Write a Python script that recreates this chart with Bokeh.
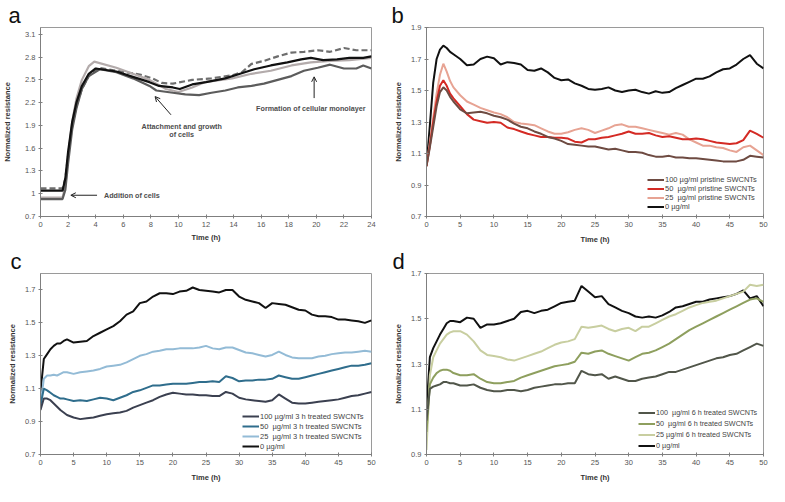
from bokeh.plotting import figure
from bokeh.layouts import gridplot
from bokeh.models import (Range1d, FixedTicker, CustomJSTickFormatter, Legend, LegendItem,
                          Label, Arrow, OpenHead, Title)
from bokeh.embed import file_html
from bokeh.resources import INLINE

FONT = "Liberation Sans"

# ---------------- Panel a data ----------------
A_LABEL_X = [0, 2, 4, 6, 8, 10, 12, 14, 16, 18, 20, 22, 24]
A_TICKS_Y = [0.7, 1, 1.3, 1.6, 1.9, 2.2, 2.5, 2.8, 3.1]

a_black_x = [0, 1.6, 1.8, 2.0, 2.3, 2.6, 3.0, 3.5, 4.0, 5.5, 6.7, 7.9, 8.6, 9.6, 10.1, 11, 12, 13.4, 14.3,
             15.5, 16.7, 17.9, 18.9, 19.6, 20.5, 21.5, 22.4, 23.4, 24]
a_black_y = [1.04, 1.04, 1.2, 1.55, 1.95, 2.2, 2.42, 2.58, 2.65, 2.61, 2.54, 2.47, 2.42, 2.40, 2.38, 2.44,
             2.47, 2.52, 2.57, 2.64, 2.69, 2.73, 2.77, 2.79, 2.76, 2.77, 2.79, 2.79, 2.81]
a_dash_x = [0, 1.6, 1.8, 2.0, 2.3, 2.6, 3.0, 3.5, 4.2, 5.5, 7.2, 8.1, 8.8, 9.6, 11, 12.4, 13.9, 14.6, 15.3,
            16.2, 17.2, 18.2, 19.1, 20.1, 21, 22, 22.9, 24]
a_dash_y = [1.07, 1.07, 1.2, 1.5, 1.9, 2.15, 2.38, 2.55, 2.66, 2.62, 2.57, 2.52, 2.46, 2.45, 2.50, 2.52,
            2.56, 2.60, 2.71, 2.75, 2.81, 2.86, 2.87, 2.89, 2.87, 2.92, 2.89, 2.89]
a_light_x = [0, 1.6, 1.8, 2.0, 2.3, 2.6, 3.0, 3.5, 3.9, 5.5, 6.7, 7.9, 9.1, 10, 11, 11.9, 13.9, 15.3, 16.7,
             18.2, 19.6, 21, 22.4, 24]
a_light_y = [0.95, 0.95, 1.1, 1.5, 1.95, 2.25, 2.5, 2.68, 2.74, 2.66, 2.58, 2.50, 2.38, 2.34, 2.40, 2.47,
             2.52, 2.58, 2.62, 2.69, 2.73, 2.75, 2.76, 2.79]
a_dark_x = [0, 1.6, 1.8, 2.0, 2.3, 2.6, 3.0, 3.5, 4.3, 5.5, 6.7, 7.9, 8.4, 9.6, 10.5, 11.5, 12.4, 13.4, 14.3,
            15.3, 16.2, 17.2, 18.2, 19.1, 20.1, 21, 22, 22.9, 23.4, 24]
a_dark_y = [0.93, 0.93, 1.05, 1.4, 1.85, 2.12, 2.38, 2.55, 2.64, 2.60, 2.52, 2.42, 2.36, 2.33, 2.31, 2.30,
            2.33, 2.36, 2.40, 2.42, 2.45, 2.50, 2.55, 2.62, 2.66, 2.70, 2.65, 2.65, 2.69, 2.65]

# ---------------- Panels b, c, d shared time grid ----------------
TIME = [0, 0.5, 1, 1.5, 2, 2.5, 3, 3.5, 4] + list(range(5, 51))
X_TICKS_50 = [0, 5, 10, 15, 20, 25, 30, 35, 40, 45, 50]

B_TICKS_Y = [0.7, 0.9, 1.1, 1.3, 1.5, 1.7, 1.9]
b_100 = [1.02, 1.14, 1.27, 1.40, 1.49, 1.52, 1.50, 1.46, 1.43, 1.38, 1.355, 1.36, 1.365, 1.355, 1.34, 1.33,
         1.315, 1.29, 1.27, 1.26, 1.24, 1.225, 1.205, 1.195, 1.18, 1.16, 1.155, 1.15, 1.145, 1.145, 1.135,
         1.125, 1.13, 1.12, 1.11, 1.11, 1.105, 1.09, 1.08, 1.08, 1.085, 1.075, 1.075, 1.07, 1.07, 1.065,
         1.06, 1.055, 1.05, 1.05, 1.05, 1.06, 1.085, 1.08, 1.075]
b_50 = [1.02, 1.15, 1.30, 1.43, 1.53, 1.565, 1.53, 1.48, 1.45, 1.40, 1.35, 1.315, 1.305, 1.295, 1.30, 1.295,
        1.265, 1.255, 1.24, 1.225, 1.215, 1.205, 1.205, 1.20, 1.20, 1.195, 1.175, 1.17, 1.19, 1.19, 1.20,
        1.205, 1.215, 1.225, 1.24, 1.225, 1.225, 1.23, 1.215, 1.205, 1.21, 1.20, 1.19, 1.19, 1.195, 1.19,
        1.18, 1.17, 1.165, 1.16, 1.165, 1.185, 1.245, 1.225, 1.20]
b_25 = [1.02, 1.17, 1.33, 1.48, 1.60, 1.67, 1.62, 1.56, 1.52, 1.47, 1.43, 1.41, 1.39, 1.375, 1.36, 1.35,
        1.33, 1.30, 1.29, 1.285, 1.28, 1.26, 1.24, 1.225, 1.225, 1.235, 1.25, 1.26, 1.25, 1.23, 1.245, 1.26,
        1.28, 1.285, 1.27, 1.27, 1.26, 1.25, 1.24, 1.23, 1.22, 1.23, 1.22, 1.19, 1.17, 1.15, 1.15, 1.14,
        1.135, 1.12, 1.11, 1.14, 1.15, 1.12, 1.09]
b_0 = [1.02, 1.28, 1.55, 1.70, 1.76, 1.785, 1.77, 1.745, 1.73, 1.70, 1.66, 1.665, 1.70, 1.715, 1.705,
       1.665, 1.68, 1.675, 1.665, 1.63, 1.625, 1.64, 1.615, 1.58, 1.565, 1.57, 1.545, 1.53, 1.51, 1.505,
       1.51, 1.52, 1.50, 1.49, 1.50, 1.505, 1.49, 1.48, 1.495, 1.485, 1.49, 1.515, 1.535, 1.555, 1.575,
       1.575, 1.59, 1.615, 1.635, 1.64, 1.665, 1.70, 1.725, 1.67, 1.64]

C_TICKS_Y = [0.7, 0.9, 1.1, 1.3, 1.5, 1.7]
c_100 = [0.97, 1.04, 1.04, 1.03, 1.01, 0.99, 0.97, 0.955, 0.94, 0.925, 0.915, 0.92, 0.925, 0.935, 0.945,
         0.95, 0.955, 0.965, 0.985, 1.00, 1.015, 1.03, 1.05, 1.065, 1.075, 1.07, 1.065, 1.065, 1.06, 1.06,
         1.055, 1.055, 1.08, 1.07, 1.045, 1.035, 1.03, 1.025, 1.02, 1.03, 1.065, 1.04, 1.015, 1.01, 1.01,
         1.015, 1.02, 1.025, 1.03, 1.035, 1.045, 1.055, 1.06, 1.07, 1.08]
c_50 = [1.0, 1.10, 1.09, 1.075, 1.06, 1.05, 1.04, 1.04, 1.035, 1.025, 1.03, 1.025, 1.035, 1.045, 1.04,
        1.03, 1.045, 1.06, 1.08, 1.09, 1.105, 1.12, 1.12, 1.125, 1.13, 1.13, 1.13, 1.135, 1.14, 1.14, 1.145,
        1.14, 1.175, 1.165, 1.145, 1.15, 1.15, 1.155, 1.155, 1.16, 1.18, 1.17, 1.16, 1.16, 1.17, 1.18,
        1.19, 1.20, 1.21, 1.22, 1.23, 1.24, 1.24, 1.245, 1.255]
c_25 = [1.0, 1.16, 1.18, 1.18, 1.185, 1.18, 1.19, 1.20, 1.20, 1.19, 1.20, 1.205, 1.21, 1.22, 1.235, 1.24,
        1.245, 1.26, 1.28, 1.30, 1.31, 1.325, 1.33, 1.34, 1.34, 1.345, 1.345, 1.345, 1.35, 1.36, 1.345,
        1.34, 1.35, 1.35, 1.335, 1.32, 1.315, 1.305, 1.295, 1.305, 1.325, 1.305, 1.29, 1.285, 1.285, 1.285,
        1.295, 1.30, 1.31, 1.315, 1.32, 1.32, 1.325, 1.33, 1.325]
c_0 = [1.08, 1.28, 1.31, 1.34, 1.36, 1.375, 1.375, 1.39, 1.40, 1.38, 1.385, 1.39, 1.42, 1.44, 1.46, 1.48,
       1.51, 1.55, 1.57, 1.62, 1.63, 1.66, 1.68, 1.68, 1.675, 1.69, 1.695, 1.715, 1.70, 1.695, 1.69, 1.685,
       1.70, 1.70, 1.66, 1.64, 1.63, 1.62, 1.59, 1.62, 1.615, 1.61, 1.595, 1.58, 1.575, 1.55, 1.54, 1.54,
       1.535, 1.52, 1.52, 1.515, 1.51, 1.50, 1.515]

D_TICKS_Y = [0.9, 1.1, 1.3, 1.5, 1.7]
d_100 = [1.05, 1.19, 1.20, 1.205, 1.21, 1.22, 1.22, 1.215, 1.215, 1.205, 1.205, 1.21, 1.195, 1.185, 1.18,
         1.18, 1.185, 1.185, 1.18, 1.185, 1.195, 1.20, 1.205, 1.21, 1.21, 1.215, 1.215, 1.27, 1.255, 1.25,
         1.255, 1.235, 1.245, 1.235, 1.225, 1.225, 1.235, 1.24, 1.245, 1.255, 1.265, 1.265, 1.275, 1.285,
         1.295, 1.305, 1.315, 1.325, 1.33, 1.34, 1.345, 1.36, 1.375, 1.39, 1.38]
d_50 = [1.0, 1.21, 1.24, 1.26, 1.27, 1.275, 1.275, 1.27, 1.26, 1.25, 1.25, 1.255, 1.235, 1.22, 1.215,
        1.215, 1.22, 1.225, 1.24, 1.25, 1.26, 1.27, 1.28, 1.29, 1.295, 1.30, 1.31, 1.35, 1.345, 1.355, 1.36,
        1.345, 1.335, 1.325, 1.315, 1.33, 1.345, 1.35, 1.36, 1.375, 1.39, 1.41, 1.43, 1.45, 1.465, 1.48,
        1.495, 1.51, 1.525, 1.54, 1.555, 1.57, 1.585, 1.59, 1.575]
d_25 = [0.92, 1.25, 1.33, 1.36, 1.39, 1.41, 1.43, 1.44, 1.445, 1.445, 1.43, 1.40, 1.36, 1.34, 1.335, 1.33,
        1.32, 1.315, 1.325, 1.335, 1.345, 1.355, 1.37, 1.385, 1.395, 1.40, 1.41, 1.465, 1.46, 1.465, 1.47,
        1.455, 1.445, 1.455, 1.46, 1.445, 1.465, 1.465, 1.48, 1.495, 1.51, 1.52, 1.535, 1.55, 1.56, 1.57,
        1.575, 1.58, 1.59, 1.60, 1.61, 1.62, 1.65, 1.645, 1.65]
d_0 = [1.10, 1.33, 1.37, 1.40, 1.43, 1.455, 1.48, 1.49, 1.49, 1.485, 1.505, 1.50, 1.46, 1.475, 1.475, 1.48,
       1.49, 1.50, 1.53, 1.535, 1.525, 1.535, 1.54, 1.555, 1.57, 1.575, 1.58, 1.645, 1.62, 1.595, 1.60,
       1.565, 1.55, 1.535, 1.525, 1.51, 1.505, 1.51, 1.505, 1.515, 1.53, 1.55, 1.555, 1.565, 1.575, 1.575,
       1.585, 1.59, 1.595, 1.60, 1.61, 1.625, 1.59, 1.60, 1.555]

AXIS_COLOR = "#7f7f7f"


def make_fig(w, h, bl, br, bt, bb, xr, yr, xticks, yticks, ylabel, ylab_standoff, xlab_standoff):
    p = figure(width=w, height=h, output_backend="svg", toolbar_location=None,
               x_range=Range1d(*xr), y_range=Range1d(*yr),
               min_border_left=bl, min_border_right=br, min_border_top=bt, min_border_bottom=bb)
    p.xgrid.visible = False
    p.ygrid.visible = False
    p.outline_line_color = "#9a9a9a"
    p.background_fill_color = "white"
    p.border_fill_color = "white"
    p.xaxis.ticker = FixedTicker(ticks=xticks)
    p.yaxis.ticker = FixedTicker(ticks=yticks)
    for ax in (p.xaxis[0], p.yaxis[0]):
        ax.formatter = CustomJSTickFormatter(code="return String(Math.round(tick*100)/100)")
        ax.major_label_text_font = FONT
        ax.major_label_text_font_size = "7.5px"
        ax.major_label_text_color = "#555555"
        ax.axis_label_text_font = FONT
        ax.axis_label_text_font_size = "7.5px"
        ax.axis_label_text_font_style = "bold"
        ax.axis_label_text_color = "#333333"
        ax.axis_line_color = AXIS_COLOR
        ax.major_tick_line_color = AXIS_COLOR
        ax.major_tick_in = 2
        ax.major_tick_out = 2
        ax.minor_tick_line_color = None
        ax.major_label_standoff = 3
    p.xaxis.axis_label = "Time (h)"
    p.yaxis.axis_label = ylabel
    p.yaxis.axis_label_standoff = ylab_standoff
    p.xaxis.axis_label_standoff = xlab_standoff
    return p


def letter_title(p, txt, off):
    p.title = Title(text=txt, text_font=FONT, text_font_size="22px", text_font_style="normal",
                    text_color="#111111", align="left", offset=off, standoff=0)


def legend(p, items, vx, vy, row_h, fs="7.5px"):
    lg = Legend(items=[LegendItem(label=l, renderers=[r]) for l, r in items],
                location=(vx, vy), background_fill_alpha=0, border_line_alpha=0,
                label_text_font=FONT, label_text_font_size=fs, label_text_color="#444444",
                glyph_width=17, glyph_height=int(row_h), label_height=int(row_h),
                label_standoff=1, spacing=0, padding=2, margin=0)
    p.add_layout(lg)


# ---------------- Panel a ----------------
pa = make_fig(388, 246, 39, 17, 26, 28, (0, 24), (0.7, 3.19), A_LABEL_X, A_TICKS_Y,
              "Normalized resistance", 10, 3)
pa.line(a_dash_x, a_dash_y, line_color="#6e6e6e", line_width=2.2, line_dash="6 3")
pa.line(a_light_x, a_light_y, line_color="#b3abab", line_width=2.2)
pa.line(a_dark_x, a_dark_y, line_color="#5c5c5c", line_width=2.2)
pa.line(a_black_x, a_black_y, line_color="#111111", line_width=2.2)
letter_title(pa, "a", -32)

ANN = "#4d4d4d"
for tx, ty, txt in [(4.6, 0.98, "Addition of cells"),
                    (10.24, 1.89, "Attachment and growth"),
                    (10.24, 1.785, "of cells"),
                    (19.6, 2.117, "Formation of cellular monolayer")]:
    pa.add_layout(Label(x=tx, y=ty, text=txt, text_font=FONT, text_font_size="7.2px",
                        text_font_style="bold", text_color=ANN,
                        text_align="left" if txt.startswith("Addition") else "center",
                        text_baseline="middle"))
for xs, ys, xe, ye in [(4.1, 0.98, 2.2, 0.98), (9.46, 2.04, 8.31, 2.28), (19.84, 2.26, 19.84, 2.54)]:
    pa.add_layout(Arrow(end=OpenHead(size=5, line_color="#222222", line_width=1),
                        x_start=xs, y_start=ys, x_end=xe, y_end=ye,
                        line_color="#222222", line_width=1))

# ---------------- Panel b ----------------
pb = make_fig(388, 246, 38, 13, 26, 28, (0, 50), (0.7, 1.9), X_TICKS_50, B_TICKS_Y,
              "Normalized resistacne", 5, 5)
rb0 = pb.line(TIME, b_0, line_color="#111111", line_width=2)
rb25 = pb.line(TIME, b_25, line_color="#e7a393", line_width=2)
rb50 = pb.line(TIME, b_50, line_color="#d42a24", line_width=2)
rb100 = pb.line(TIME, b_100, line_color="#6e4b42", line_width=2)
legend(pb, [("100 µg/ml pristine SWCNTs", rb100), ("50  µg/ml pristine SWCNTs", rb50),
            ("25  µg/ml pristine SWCNTs", rb25), ("0 µg/ml", rb0)], 219, 3, 9.5)
letter_title(pb, "b", -35)

# ---------------- Panel c ----------------
pc = make_fig(388, 246, 40, 13, 26, 38, (0, 50), (0.7, 1.8), X_TICKS_50, C_TICKS_Y,
              "Normalized resistance", 5, 5)
rc0 = pc.line(TIME, c_0, line_color="#111111", line_width=2)
rc25 = pc.line(TIME, c_25, line_color="#93bbd6", line_width=2)
rc50 = pc.line(TIME, c_50, line_color="#2f6d8c", line_width=2)
rc100 = pc.line(TIME, c_100, line_color="#3b4050", line_width=2)
legend(pc, [("100 µg/ml 3 h treated SWCNTs", rc100), ("50  µg/ml 3 h treated SWCNTs", rc50),
            ("25  µg/ml 3 h treated SWCNTs", rc25), ("0 µg/ml", rc0)], 200, 1, 10)
letter_title(pc, "c", -30)

# ---------------- Panel d ----------------
pd_ = make_fig(388, 246, 37, 13, 26, 38, (0, 50), (0.9, 1.7), X_TICKS_50, D_TICKS_Y,
               "Normalized resistance", 5, 5)
rd0 = pd_.line(TIME, d_0, line_color="#111111", line_width=2)
rd25 = pd_.line(TIME, d_25, line_color="#c8cea0", line_width=2)
rd50 = pd_.line(TIME, d_50, line_color="#8e9f5e", line_width=2)
rd100 = pd_.line(TIME, d_100, line_color="#51564a", line_width=2)
legend(pd_, [("100  µg/ml 6 h treated SWCNTs", rd100), ("50  µg/ml 6 h treated SWCNTs", rd50),
             ("25 µg/ml 6 h treated SWCNTs", rd25), ("0 µg/ml", rd0)], 210, 1, 11, "7.2px")
letter_title(pd_, "d", -34)

grid = gridplot([[pa, pb], [pc, pd_]], toolbar_location=None)

open("out.html", "w").write(file_html(grid, INLINE))
